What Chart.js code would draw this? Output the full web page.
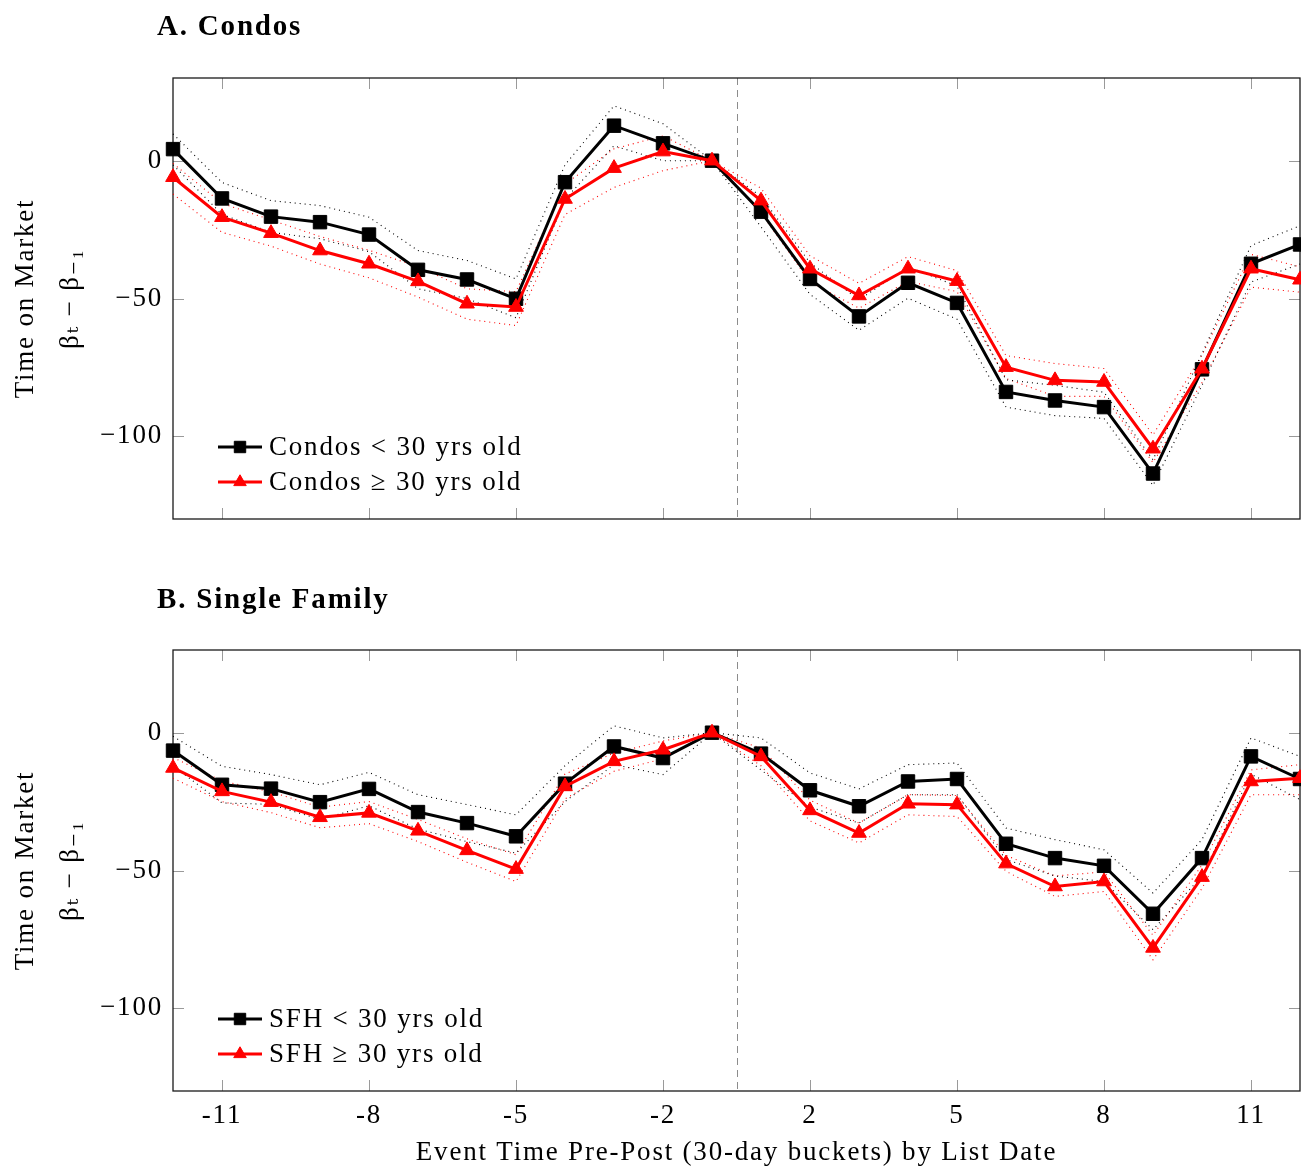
<!DOCTYPE html>
<html lang="en">
<head>
  <meta charset="UTF-8">
  <title>Time on Market event study</title>
  <script src="https://cdn.jsdelivr.net/npm/chart.js"></script>
  <style>
    body { margin: 0; background: #fff; }
    canvas { position: absolute; left: 0; }
    #chartA { top: 0; }
    #chartB { top: 560px; }
  </style>
</head>
<body>
  <canvas id="chartA" width="1301" height="560"></canvas>
  <canvas id="chartB" width="1301" height="609"></canvas>

  <script>
    // event time buckets (0 is skipped)
    const eventTimes = [-12, -11, -10, -9, -8, -7, -6, -5, -4, -3, -2, -1, 1, 2, 3, 4, 5, 6, 7, 8, 9, 10, 11, 12];
    const xTickLabels = [-11, -8, -5, -2, 2, 5, 8, 11];
    const yTickValues = [-100, -50, 0];

    // A. Condos
    const condoNew      = [4.2, -13.7, -20.3, -22.3, -26.8, -39.6, -43.1, -50.1, -7.8, 12.7, 6.3, 0, -18.5, -42.9, -56.5, -44.3, -51.6, -83.9, -87.0, -89.4, -113.5, -75.7, -37.4, -30.4];
    const condoNewHigh  = [9.7, -7.9, -14.5, -16.3, -20.5, -32.6, -36.2, -42.9, -1.5, 19.9, 13.4, 0, -13.0, -37.0, -50.5, -38.5, -45.5, -79.5, -81.5, -84.0, -108.5, -70.0, -30.8, -23.6];
    const condoNewLow   = [-1.5, -19.5, -26.0, -28.3, -33.0, -46.5, -50.0, -57.0, -14.0, 5.4, 0.0, 0, -24.0, -48.5, -61.5, -49.9, -57.5, -89.4, -92.5, -93.5, -117.8, -81.5, -44.0, -37.5];
    const condoOld      = [-6.0, -20.5, -26.3, -32.6, -37.4, -43.8, -51.9, -53.1, -13.9, -2.7, 3.3, 0, -14.5, -39.2, -48.9, -39.2, -43.7, -74.9, -79.7, -80.3, -104.5, -75.5, -39.2, -43.2];
    const condoOldHigh  = [-1.0, -15.5, -21.5, -27.5, -32.5, -38.5, -46.5, -47.5, -8.5, 4.3, 9.0, 0, -10.0, -34.5, -44.5, -34.8, -39.9, -70.7, -73.6, -75.4, -99.5, -70.5, -34.0, -38.5];
    const condoOldLow   = [-12.1, -26.0, -31.0, -37.5, -42.5, -49.5, -57.5, -59.8, -19.5, -9.7, -3.6, 0, -19.0, -44.0, -53.5, -43.8, -47.5, -79.0, -85.5, -85.5, -109.5, -80.5, -45.9, -47.7];

    // B. Single Family
    const sfhNew      = [-6.5, -18.9, -20.3, -25.2, -20.4, -28.8, -32.8, -37.6, -18.5, -5.0, -9.2, 0, -7.6, -20.9, -26.7, -17.7, -16.8, -40.3, -45.5, -48.3, -65.7, -45.5, -8.6, -16.8];
    const sfhNewHigh  = [-1.3, -12.2, -15.2, -18.9, -14.4, -22.5, -26.1, -29.8, -12.0, 2.5, -1.9, 0, -1.9, -14.6, -20.4, -11.6, -11.0, -34.6, -38.8, -42.5, -58.2, -38.8, -1.9, -8.6];
    const sfhNewLow   = [-12.0, -25.5, -26.0, -31.5, -26.5, -35.0, -39.5, -43.7, -25.0, -11.6, -15.2, 0, -13.5, -27.0, -32.8, -22.5, -22.5, -46.0, -52.0, -54.0, -71.5, -52.0, -15.0, -24.3];
    const sfhOld      = [-12.8, -21.3, -25.2, -30.7, -29.1, -35.6, -42.7, -49.5, -19.5, -10.4, -6.2, 0, -8.6, -28.2, -36.4, -25.8, -26.1, -47.5, -55.8, -54.0, -78.1, -52.4, -17.7, -16.5];
    const sfhOldHigh  = [-9.0, -17.5, -21.5, -27.0, -25.0, -31.5, -38.5, -44.3, -15.0, -7.4, -3.0, 0, -5.5, -24.5, -32.8, -22.5, -22.8, -44.5, -52.0, -50.5, -73.5, -48.0, -13.5, -11.6];
    const sfhOldLow   = [-16.5, -25.0, -29.0, -34.5, -33.0, -39.5, -47.0, -54.0, -24.0, -14.0, -9.5, 0, -12.0, -32.0, -40.0, -29.8, -30.4, -50.3, -59.4, -57.6, -82.4, -56.5, -22.5, -22.5];

    const SERIF = '"Liberation Serif", "DejaVu Serif", serif';
    Chart.defaults.font.family = SERIF;
    Chart.defaults.font.size = 27;
    Chart.defaults.color = '#000';

    // the axis has no 0 bucket: post-period buckets move one step left
    const xPos = t => (t < 0 ? t : t - 1);
    const xLabel = p => (p < 0 ? p : p + 1);
    const toPoints = arr => eventTimes.map((t, i) => ({ x: xPos(t), y: arr[i] }));

    function band(data, color) {
      return {
        data: toPoints(data), borderColor: color, borderWidth: 1.1, borderDash: [1, 4],
        pointRadius: 0, fill: false, clip: false, order: 3
      };
    }
    function mean(label, data, color, style, radius, order) {
      return {
        label, data: toPoints(data), borderColor: color, backgroundColor: color,
        borderWidth: 3, pointStyle: style, pointRadius: radius, pointBorderWidth: 1,
        pointBackgroundColor: color, pointBorderColor: color,
        fill: false, clip: false, order, inLegend: true
      };
    }

    const panelDecor = {
      id: 'panelDecor',
      beforeDraw(chart) {
        // Computer Modern sets wider than Liberation Serif
        chart.ctx.letterSpacing = '1.8px';
      },
      beforeDatasetsDraw(chart) {
        const { ctx, chartArea: a, scales: { x, y } } = chart;
        ctx.save();
        // dashed divider between -1 and 1
        const xd = Math.round(x.getPixelForValue(-0.5)) + 0.5;
        ctx.strokeStyle = '#8c8c8c';
        ctx.lineWidth = 1;
        ctx.setLineDash([7, 5]);
        ctx.beginPath();
        ctx.moveTo(xd, a.top);
        ctx.lineTo(xd, a.bottom);
        ctx.stroke();
        ctx.setLineDash([]);
        // tick marks pointing inward on all four sides
        ctx.strokeStyle = '#9a9a9a';
        ctx.beginPath();
        x.ticks.forEach(t => {
          const px = Math.round(x.getPixelForValue(t.value)) + 0.5;
          ctx.moveTo(px, a.top); ctx.lineTo(px, a.top + 11);
          ctx.moveTo(px, a.bottom); ctx.lineTo(px, a.bottom - 11);
        });
        y.ticks.forEach(t => {
          const py = Math.round(y.getPixelForValue(t.value)) + 0.5;
          ctx.moveTo(a.left, py); ctx.lineTo(a.left + 11, py);
          ctx.moveTo(a.right, py); ctx.lineTo(a.right - 11, py);
        });
        ctx.stroke();
        ctx.strokeStyle = '#1a1a1a';
        ctx.lineWidth = 1.3;
        ctx.strokeRect(a.left, a.top, a.right - a.left, a.bottom - a.top);
        ctx.restore();
      },
      afterDatasetsDraw(chart, args, opts) {
        const { ctx, chartArea: a } = chart;
        ctx.save();
        ctx.fillStyle = '#000';
        ctx.textBaseline = 'middle';
        ctx.font = 'bold 29px ' + SERIF;
        ctx.fillText(opts.title, 157, opts.titleY);

        ctx.font = '27px ' + SERIF;
        chart.data.datasets.filter(d => d.inLegend).forEach((d, i) => {
          const ly = a.bottom - 72 + i * 35;
          ctx.strokeStyle = d.borderColor;
          ctx.fillStyle = d.borderColor;
          ctx.lineWidth = 3;
          ctx.beginPath();
          ctx.moveTo(a.left + 45, ly);
          ctx.lineTo(a.left + 89, ly);
          ctx.stroke();
          ctx.lineWidth = 1;
          Chart.helpers.drawPoint(ctx, { pointStyle: d.pointStyle, radius: d.pointRadius * 0.85, rotation: 0, borderWidth: 1 }, a.left + 67, ly);
          ctx.fillStyle = '#000';
          ctx.fillText(d.label, a.left + 96, ly + 1);
        });
        ctx.restore();
      }
    };

    function makeChart(id, cfg) {
      return new Chart(document.getElementById(id), {
        type: 'line',
        data: {
          datasets: [
            mean(cfg.oldLabel, cfg.oldMean, '#ff0000', 'triangle', 8.5, 0),
            mean(cfg.newLabel, cfg.newMean, '#000000', 'rect', 9.5, 1),
            band(cfg.oldHigh, '#ff0000'), band(cfg.oldLow, '#ff0000'),
            band(cfg.newHigh, '#000000'), band(cfg.newLow, '#000000')
          ].reverse()
        },
        options: {
          responsive: false,
          animation: false,
          events: [],
          layout: { autoPadding: false, padding: { top: cfg.top, right: 1, left: 0, bottom: 0 } },
          plugins: {
            legend: { display: false },
            tooltip: { enabled: false },
            panelDecor: { title: cfg.title, titleY: cfg.titleY }
          },
          scales: {
            x: {
              type: 'linear', min: -12, max: 11,
              grid: { display: false, drawTicks: false }, border: { display: false },
              afterBuildTicks: s => { s.ticks = xTickLabels.map(l => ({ value: xPos(l) })); },
              afterFit: s => { s.height = cfg.xHeight; },
              ticks: { display: cfg.showX, padding: 9, autoSkip: false, maxRotation: 0, callback: v => String(xLabel(v)) },
              title: {
                display: cfg.showX, text: 'Event Time Pre-Post (30-day buckets) by List Date',
                padding: { top: 0, bottom: 0 }
              }
            },
            y: {
              min: -130, max: 30,
              grid: { display: false, drawTicks: false }, border: { display: false },
              afterBuildTicks: s => { s.ticks = yTickValues.map(v => ({ value: v })); },
              afterFit: s => { s.width = 173; },
              ticks: { padding: 10, callback: v => (v < 0 ? '\u2212' + Math.abs(v) : String(v)) },
              title: {
                display: true, text: ['Time on Market', 'β\u209C \u2212 β\u208B\u2081'],
                font: { size: 27, lineHeight: 1.67 }, padding: { top: 3, bottom: 0 }
              }
            }
          }
        },
        plugins: [panelDecor]
      });
    }

    makeChart('chartA', {
      title: 'A. Condos', titleY: 28, top: 78, xHeight: 41, showX: false,
      newLabel: 'Condos < 30 yrs old', oldLabel: 'Condos \u2265 30 yrs old',
      newMean: condoNew, newHigh: condoNewHigh, newLow: condoNewLow,
      oldMean: condoOld, oldHigh: condoOldHigh, oldLow: condoOldLow
    });

    makeChart('chartB', {
      title: 'B. Single Family', titleY: 41, top: 90, xHeight: 78, showX: true,
      newLabel: 'SFH < 30 yrs old', oldLabel: 'SFH \u2265 30 yrs old',
      newMean: sfhNew, newHigh: sfhNewHigh, newLow: sfhNewLow,
      oldMean: sfhOld, oldHigh: sfhOldHigh, oldLow: sfhOldLow
    });
  </script>
</body>
</html>
